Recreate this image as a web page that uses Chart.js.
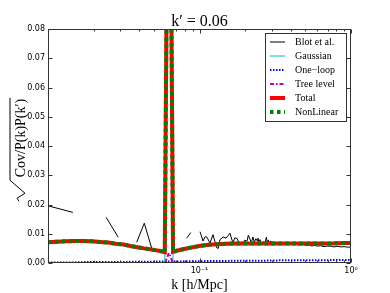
<!DOCTYPE html>
<html>
<head>
<meta charset="utf-8">
<script src="https://cdn.jsdelivr.net/npm/chart.js@4.4.0/dist/chart.umd.min.js"></script>
<style>
  html, body { margin: 0; padding: 0; background: #fff; }
  #wrap { width: 390px; height: 293px; }
</style>
</head>
<body>
<div id="wrap"><canvas id="c" width="390" height="293"></canvas></div>
<script>
// measured points, Blot et al. (null = no value, line is broken there)
const blotK = [0.0101, 0.0146, 0.0190, 0.0242, 0.0291, 0.0340, 0.0385, 0.0432, 0.0484, 0.0550,
  0.0823, 0.0875, 0.0940,
  0.1008, 0.1055, 0.1090, 0.1121, 0.1173, 0.1228, 0.1266, 0.1300, 0.1330, 0.1366,
  0.1430, 0.1496, 0.1540, 0.1590, 0.1630, 0.1665, 0.1710, 0.1768, 0.1810, 0.1851,
  0.1900, 0.1937, 0.1990, 0.2058, 0.2100, 0.2150, 0.2200, 0.2253, 0.2300, 0.2358,
  0.2400, 0.2431, 0.2470, 0.2506, 0.2560, 0.2623, 0.2660, 0.2704, 0.2760, 0.2800,
  0.2850, 0.2900, 0.2950, 0.3005, 0.3060, 0.3146, 0.3200, 0.3300, 0.3390, 0.3500,
  0.3652, 0.3800, 0.3936, 0.4100, 0.4241, 0.4400, 0.4570, 0.4750, 0.4924, 0.5100,
  0.5306, 0.5500, 0.5717, 0.6000, 0.6300, 0.6637, 0.7000, 0.7400, 0.7706, 0.8100,
  0.8600, 0.9000, 0.9500, 1.0000];
const blotV = [0.0195, 0.0173, null, 0.0156, 0.0088, null, 0.0071, 0.0136, 0.0050, null,
  0.0085, 0.0104, null,
  0.0107, 0.0075, 0.0090, 0.0088, 0.0068, 0.0097, 0.0072, 0.0052, 0.0050, 0.0080,
  0.0089, 0.0085, 0.0093, 0.0102, 0.0082, 0.0070, 0.0086, 0.0084, 0.0073, 0.0066,
  0.0072, 0.0069, 0.0078, 0.0074, 0.0095, 0.0082, 0.0070, 0.0089, 0.0072, 0.0083,
  0.0076, 0.0085, 0.0070, 0.0080, 0.0066, 0.0068, 0.0074, 0.0065, 0.0088, 0.0070,
  0.0079, 0.0065, 0.0075, 0.0071, 0.0067, 0.0072, 0.0064, 0.0070, 0.0066, 0.0069,
  0.0064, 0.0068, 0.0066, 0.0063, 0.0068, 0.0065, 0.0061, 0.0065, 0.0062, 0.0060,
  0.0062, 0.0058, 0.0060, 0.0058, 0.0059, 0.0056, 0.0058, 0.0057, 0.0055, 0.0057,
  0.0055, 0.0056, 0.0054, 0.0055];

// model curves
const theoryK = [0.0100, 0.0115, 0.0130, 0.0150, 0.0170, 0.0195, 0.0220, 0.0250, 0.0280, 0.0315,
  0.0350, 0.0390, 0.0430, 0.0470, 0.0510, 0.0550, 0.0590, 0.0629, 0.0669, 0.0720,
  0.0780, 0.0850, 0.0930, 0.1020, 0.1150, 0.1300, 0.1500, 0.1800, 0.2200, 0.2700,
  0.3300, 0.4000, 0.5000, 0.6000, 0.7500, 0.9000, 1.0000];
const totalV = [0.0071, 0.0073, 0.0074, 0.0075, 0.0075, 0.0074, 0.0072, 0.0070, 0.0066, 0.0063,
  0.0058, 0.0054, 0.0050, 0.0047, 0.0044, 0.0041, 0.0037, 0.2000, 0.0038, 0.0043,
  0.0047, 0.0051, 0.0055, 0.0059, 0.0062, 0.0064, 0.0066, 0.0067, 0.0067, 0.0067,
  0.0067, 0.0067, 0.0067, 0.0067, 0.0067, 0.0068, 0.0068];
const nonLinearV = [0.0071, 0.0073, 0.0074, 0.0075, 0.0075, 0.0074, 0.0072, 0.0070, 0.0066, 0.0063,
  0.0058, 0.0054, 0.0050, 0.0047, 0.0044, 0.0041, 0.0037, 0.2000, 0.0038, 0.0043,
  0.0047, 0.0051, 0.0055, 0.0059, 0.0062, 0.0064, 0.0066, 0.0067, 0.0067, 0.0067,
  0.0067, 0.0067, 0.0067, 0.0067, 0.0067, 0.0068, 0.0068];
const oneLoopV = [0.0002, 0.0002, 0.0002, 0.0002, 0.0003, 0.0003, 0.0003, 0.0003, 0.0003, 0.0003,
  0.0004, 0.0004, 0.0004, 0.0004, 0.0005, 0.0005, 0.0005, 0.0005, 0.0005, 0.0005,
  0.0006, 0.0006, 0.0006, 0.0006, 0.0007, 0.0007, 0.0007, 0.0008, 0.0008, 0.0008,
  0.0009, 0.0009, 0.0009, 0.0009, 0.0010, 0.0010, 0.0010];
const treeV = [0, 0, 0, 0, 0, 0, 0, 0, 0, 0,
  0, 0, 0, 0, 0, 0, 0, 0.0034, 0, 0,
  0, 0, 0, 0, 0, 0, 0, 0, 0, 0,
  0, 0, 0, 0, 0, 0, 0];
const gaussV = [0, 0, 0, 0, 0, 0, 0, 0, 0, 0,
  0, 0, 0, 0, 0, 0, 0, 0.2000, 0, 0,
  0, 0, 0, 0, 0, 0, 0, 0, 0, 0,
  0, 0, 0, 0, 0, 0, 0];

const yTicks = [0, 0.01, 0.02, 0.03, 0.04, 0.05, 0.06, 0.07, 0.08];
const xMajor = [0.01, 0.1, 1];
const xMinor = [0.02, 0.03, 0.04, 0.05, 0.06, 0.07, 0.08, 0.09, 0.2, 0.3, 0.4, 0.5, 0.6, 0.7, 0.8, 0.9];
const xTickText = { 0.1: '10⁻¹', 1: '10⁰' };

const pts = (xs, ys) => xs.map((x, i) => ({ x: x, y: ys[i] }));

const datasets = [
  { label: 'NonLinear', data: pts(theoryK, nonLinearV), borderColor: '#008000', borderWidth: 4, borderDash: [3.5, 3.5], order: 0 },
  { label: 'Total', data: pts(theoryK, totalV), borderColor: '#ff0000', borderWidth: 4, order: 1 },
  { label: 'Tree level', data: pts(theoryK, treeV), borderColor: '#bf00bf', borderWidth: 2, borderDash: [4, 2, 1.5, 2], order: 2 },
  { label: 'One\u2212loop', data: pts(theoryK, oneLoopV), borderColor: '#0000ff', borderWidth: 2, borderDash: [1.5, 1.5], order: 3 },
  { label: 'Gaussian', data: pts(theoryK, gaussV), borderColor: '#00bfbf', borderWidth: 1, order: 4 },
  { label: 'Blot et al.', data: pts(blotK, blotV), borderColor: '#000000', borderWidth: 1, order: 5 }
];
datasets.forEach(d => { d.pointRadius = 0; d.fill = false; d.tension = 0; d.spanGaps = false; d.clip = 0; });

// frame, inward ticks on all four sides
const framePlugin = {
  id: 'frame',
  afterDatasetsDraw(chart) {
    const { ctx, chartArea: a, scales } = chart;
    ctx.save();
    ctx.strokeStyle = '#333';
    ctx.lineWidth = 1;
    const L = Math.round(a.left) + 0.5, R = Math.round(a.right) - 0.5;
    const T = Math.round(a.top) + 0.5, B = Math.round(a.bottom) - 0.5;
    ctx.strokeRect(L, T, R - L, B - T);
    ctx.beginPath();
    yTicks.forEach(v => {
      const y = Math.round(scales.y.getPixelForValue(v)) + 0.5;
      ctx.moveTo(L, y); ctx.lineTo(L + 4, y);
      ctx.moveTo(R, y); ctx.lineTo(R - 4, y);
    });
    xMajor.forEach(v => {
      const x = Math.round(scales.x.getPixelForValue(v)) + 0.5;
      ctx.moveTo(x, B); ctx.lineTo(x, B - 4);
      ctx.moveTo(x, T); ctx.lineTo(x, T + 4);
    });
    xMinor.forEach(v => {
      const x = Math.round(scales.x.getPixelForValue(v)) + 0.5;
      ctx.moveTo(x, B); ctx.lineTo(x, B - 2);
      ctx.moveTo(x, T); ctx.lineTo(x, T + 2);
    });
    ctx.stroke();
    ctx.restore();
  },
  afterDraw(chart) {
    const { ctx, chartArea: a } = chart;
    ctx.save();
    ctx.fillStyle = '#000';
    // title
    ctx.font = '16px "Liberation Serif"';
    ctx.textAlign = 'center';
    ctx.textBaseline = 'alphabetic';
    ctx.fillText('k\u2032 = 0.06', (a.left + a.right) / 2, 26);
    // x label
    ctx.font = '14px "Liberation Serif"';
    ctx.fillText('k [h/Mpc]', (a.left + a.right) / 2, 289);
    // y label with radical
    ctx.translate(18, 149);
    ctx.rotate(-Math.PI / 2);
    ctx.textAlign = 'left';
    ctx.font = '14px "Liberation Serif"';
    const txt = 'Cov/P(k)P(k\u2032)';
    const w = ctx.measureText(txt).width;
    const x0 = -w / 2 + 11;
    ctx.fillText(txt, x0, 7);
    ctx.strokeStyle = '#000';
    ctx.lineWidth = 1;
    ctx.beginPath();
    ctx.moveTo(x0 - 24, 1);
    ctx.lineTo(x0 - 21, -1);
    ctx.lineTo(x0 - 16, 7);
    ctx.lineTo(x0 - 3, -8);
    ctx.lineTo(x0 + w + 1, -8);
    ctx.stroke();
    ctx.restore();

    // legend
    ctx.save();
    const bx = 265.5, by = 33.5, bw = 81, bh = 88;
    ctx.fillStyle = '#fff';
    ctx.fillRect(bx, by, bw, bh);
    ctx.strokeStyle = '#333';
    ctx.lineWidth = 1;
    ctx.strokeRect(bx, by, bw, bh);
    const order = ['Blot et al.', 'Gaussian', 'One\u2212loop', 'Tree level', 'Total', 'NonLinear'];
    ctx.font = '10px "Liberation Serif"';
    ctx.textBaseline = 'middle';
    order.forEach((name, i) => {
      const d = chart.data.datasets.find(s => s.label === name);
      const y = 42 + i * 14;
      ctx.save();
      ctx.strokeStyle = d.borderColor;
      ctx.lineWidth = d.borderWidth;
      ctx.setLineDash(d.borderDash || []);
      ctx.beginPath();
      ctx.moveTo(270, y);
      ctx.lineTo(285, y);
      ctx.stroke();
      ctx.restore();
      ctx.fillStyle = '#000';
      ctx.fillText(name, 295, y);
    });
    ctx.restore();
  }
};

new Chart(document.getElementById('c'), {
  type: 'line',
  data: { datasets: datasets },
  options: {
    responsive: false,
    animation: false,
    devicePixelRatio: 1,
    layout: { padding: { left: 0, right: 39, top: 29, bottom: 0 } },
    plugins: { legend: { display: false }, tooltip: { enabled: false }, title: { display: false } },
    scales: {
      x: {
        type: 'logarithmic',
        min: 0.01,
        max: 1,
        grid: { display: false, drawTicks: false },
        border: { display: false },
        afterBuildTicks: s => { s.ticks = xMajor.map(v => ({ value: v })); },
        afterFit: s => { s.height = 30; },
        ticks: {
          autoSkip: false,
          maxRotation: 0,
          padding: 3,
          color: '#000',
          font: { family: 'DejaVu Sans', size: 8 },
          callback: v => xTickText[v] || ''
        }
      },
      y: {
        min: 0,
        max: 0.08,
        grid: { display: false, drawTicks: false },
        border: { display: false },
        afterBuildTicks: s => { s.ticks = yTicks.map(v => ({ value: v })); },
        afterFit: s => { s.width = 48; },
        ticks: {
          padding: 3,
          color: '#000',
          font: { family: 'DejaVu Sans', size: 8 },
          callback: v => v.toFixed(2)
        }
      }
    }
  },
  plugins: [framePlugin]
});
</script>
</body>
</html>
